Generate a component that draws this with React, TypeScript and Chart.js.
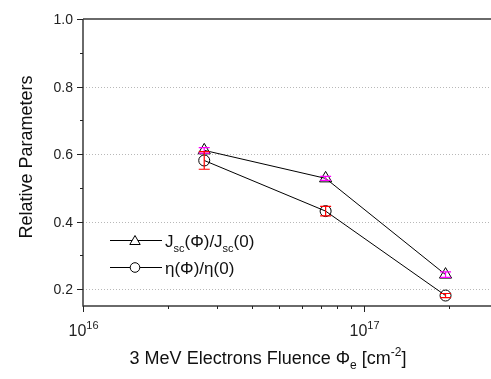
import React, { useEffect, useRef } from "react";
import { Chart, registerables } from "chart.js";

Chart.register(...registerables);

// ---- data ----
const fluence = [2.7e16, 7.3e16, 1.95e17];
const jscValues = [0.611, 0.528, 0.243];
const jscErrors = [0.008, 0.006, 0.008];
const etaValues = [0.581, 0.431, 0.181];
const etaErrors = [0.026, 0.014, 0.006];
const yMajorTicks = [0.2, 0.4, 0.6, 0.8, 1.0];
const yTickLabels = ["0.2", "0.4", "0.6", "0.8", "1.0"];
const yMinorTicks = [0.3, 0.5, 0.7, 0.9];
const yGridValues = [0.2, 0.4, 0.6, 0.8];
const xMajorExponents = [16, 17];
const xMinorTicks = [2e16, 3e16, 4e16, 5e16, 6e16, 7e16, 8e16, 9e16, 2e17];

const FONT = "'Liberation Sans', Arial, sans-serif";

type Part = { t: string; m?: "sub" | "sup" };

function drawRich(
  ctx: CanvasRenderingContext2D,
  parts: Part[],
  x: number,
  y: number,
  size: number,
  align: "left" | "center"
) {
  const small = Math.round(size * 0.66);
  const measure = (p: Part) => {
    ctx.font = `${p.m ? small : size}px ${FONT}`;
    return ctx.measureText(p.t).width;
  };
  const total = parts.reduce((s, p) => s + measure(p), 0);
  let cx = align === "center" ? x - total / 2 : x;
  ctx.textBaseline = "alphabetic";
  ctx.textAlign = "left";
  for (const p of parts) {
    ctx.font = `${p.m ? small : size}px ${FONT}`;
    let dy = 0;
    if (p.m === "sub") dy = size * 0.3;
    if (p.m === "sup") dy = -size * 0.45;
    ctx.fillText(p.t, cx, y + dy);
    cx += ctx.measureText(p.t).width;
  }
}

function drawTriangle(ctx: CanvasRenderingContext2D, x: number, y: number, r: number) {
  let a = 0;
  ctx.beginPath();
  ctx.moveTo(x + Math.sin(a) * r, y - Math.cos(a) * r);
  a += (2 * Math.PI) / 3;
  ctx.lineTo(x + Math.sin(a) * r, y - Math.cos(a) * r);
  a += (2 * Math.PI) / 3;
  ctx.lineTo(x + Math.sin(a) * r, y - Math.cos(a) * r);
  ctx.closePath();
  ctx.fill();
  ctx.stroke();
}

const decorPlugin = {
  id: "decor",
  beforeDatasetsDraw(chart: any) {
    const { ctx, chartArea, scales } = chart;
    const y = scales.y;
    ctx.save();
    ctx.strokeStyle = "#b8b8b8";
    ctx.lineWidth = 1;
    ctx.setLineDash([1, 2]);
    for (const v of yGridValues) {
      const py = Math.round(y.getPixelForValue(v)) + 0.5;
      ctx.beginPath();
      ctx.moveTo(chartArea.left, py);
      ctx.lineTo(chartArea.right, py);
      ctx.stroke();
    }
    ctx.restore();
  },
  afterDatasetsDraw(chart: any) {
    const { ctx, chartArea, scales } = chart;
    const xs = scales.x;
    const ys = scales.y;
    ctx.save();
    // error bars
    const drawErr = (vals: number[], errs: number[], color: string) => {
      ctx.strokeStyle = color;
      ctx.lineWidth = 1.2;
      vals.forEach((v, i) => {
        const px = xs.getPixelForValue(fluence[i]);
        const top = ys.getPixelForValue(v + errs[i]);
        const bot = ys.getPixelForValue(v - errs[i]);
        ctx.beginPath();
        ctx.moveTo(px, top);
        ctx.lineTo(px, bot);
        ctx.moveTo(px - 5.5, top);
        ctx.lineTo(px + 5.5, top);
        ctx.moveTo(px - 5.5, bot);
        ctx.lineTo(px + 5.5, bot);
        ctx.stroke();
      });
    };
    drawErr(jscValues, jscErrors, "#ff00ff");
    drawErr(etaValues, etaErrors, "#ff0000");

    // frame
    ctx.strokeStyle = "#3a3a3a";
    ctx.lineWidth = 1.5;
    ctx.beginPath();
    ctx.moveTo(chartArea.left, chartArea.top);
    ctx.lineTo(chartArea.right, chartArea.top);
    ctx.moveTo(chartArea.left, chartArea.top);
    ctx.lineTo(chartArea.left, chartArea.bottom);
    ctx.lineTo(chartArea.right, chartArea.bottom);
    ctx.stroke();

    // y ticks
    ctx.lineWidth = 1;
    ctx.strokeStyle = "#222";
    ctx.fillStyle = "#222";
    ctx.font = `14px ${FONT}`;
    ctx.textAlign = "right";
    ctx.textBaseline = "middle";
    yMajorTicks.forEach((v, i) => {
      const py = Math.round(ys.getPixelForValue(v)) + 0.5;
      ctx.beginPath();
      ctx.moveTo(chartArea.left - 6, py);
      ctx.lineTo(chartArea.left, py);
      ctx.stroke();
      ctx.fillText(yTickLabels[i], chartArea.left - 10, py + 0.5);
    });
    yMinorTicks.forEach((v) => {
      const py = Math.round(ys.getPixelForValue(v)) + 0.5;
      ctx.beginPath();
      ctx.moveTo(chartArea.left - 3, py);
      ctx.lineTo(chartArea.left, py);
      ctx.stroke();
    });

    // x ticks
    xMajorExponents.forEach((e) => {
      const px = Math.round(xs.getPixelForValue(Math.pow(10, e))) + 0.5;
      ctx.beginPath();
      ctx.moveTo(px, chartArea.bottom);
      ctx.lineTo(px, chartArea.bottom + 6);
      ctx.stroke();
      drawRich(ctx, [{ t: "10" }, { t: String(e), m: "sup" }], px, chartArea.bottom + 30, 16, "center");
    });
    xMinorTicks.forEach((v) => {
      const px = Math.round(xs.getPixelForValue(v)) + 0.5;
      ctx.beginPath();
      ctx.moveTo(px, chartArea.bottom);
      ctx.lineTo(px, chartArea.bottom + 3);
      ctx.stroke();
    });

    // axis titles
    ctx.fillStyle = "#111";
    drawRich(
      ctx,
      [
        { t: "3 MeV Electrons Fluence \u03A6" },
        { t: "e", m: "sub" },
        { t: " [cm" },
        { t: "-2", m: "sup" },
        { t: "]" },
      ],
      268,
      364,
      18,
      "center"
    );
    ctx.save();
    ctx.translate(32, 157);
    ctx.rotate(-Math.PI / 2);
    drawRich(ctx, [{ t: "Relative Parameters" }], 0, 0, 18, "center");
    ctx.restore();

    // legend
    ctx.strokeStyle = "#000";
    ctx.lineWidth = 1;
    const rows = [
      {
        y: 240,
        marker: "tri",
        parts: [
          { t: "J" },
          { t: "sc", m: "sub" },
          { t: "(\u03A6)/J" },
          { t: "sc", m: "sub" },
          { t: "(0)" },
        ] as Part[],
      },
      {
        y: 267,
        marker: "circ",
        parts: [{ t: "\u03B7(\u03A6)/\u03B7(0)" }] as Part[],
      },
    ];
    for (const r of rows) {
      ctx.beginPath();
      ctx.moveTo(110, r.y + 0.5);
      ctx.lineTo(162, r.y + 0.5);
      ctx.stroke();
      ctx.fillStyle = "#fff";
      if (r.marker === "tri") {
        drawTriangle(ctx, 135, r.y + 1.5, 6);
      } else {
        ctx.beginPath();
        ctx.arc(135, r.y + 0.5, 4.8, 0, Math.PI * 2);
        ctx.fill();
        ctx.stroke();
      }
      ctx.fillStyle = "#111";
      drawRich(ctx, r.parts, 165, r.y + 7, 17, "left");
    }
    ctx.restore();
  },
};

export default function App() {
  const ref = useRef<HTMLCanvasElement | null>(null);
  useEffect(() => {
    if (!ref.current) return;
    const chart = new Chart(ref.current, {
      type: "line",
      data: {
        datasets: [
          {
            label: "Jsc",
            data: fluence.map((x, i) => ({ x, y: jscValues[i] })),
            borderColor: "#000",
            borderWidth: 1,
            pointStyle: "triangle",
            pointRadius: 7,
            pointBorderColor: "#000",
            pointBackgroundColor: "rgba(0,0,0,0)",
            pointBorderWidth: 1,
          },
          {
            label: "eta",
            data: fluence.map((x, i) => ({ x, y: etaValues[i] })),
            borderColor: "#000",
            borderWidth: 1,
            pointStyle: "circle",
            pointRadius: 5.5,
            pointBorderColor: "#000",
            pointBackgroundColor: "rgba(0,0,0,0)",
            pointBorderWidth: 1,
          },
        ],
      },
      options: {
        animation: false,
        responsive: true,
        maintainAspectRatio: false,
        layout: { autoPadding: false, padding: { left: 83, top: 19, right: 0, bottom: 73 } },
        scales: {
          x: { type: "logarithmic", min: 1e16, max: 2.83e17, display: false },
          y: { type: "linear", min: 0.15, max: 1.0, display: false },
        },
        plugins: { legend: { display: false }, tooltip: { enabled: false } },
      },
      plugins: [decorPlugin],
    });
    return () => chart.destroy();
  }, []);
  return (
    <div
      style={{
        position: "fixed",
        left: 0,
        top: 0,
        width: 491,
        height: 379,
        background: "#fff",
      }}
    >
      <canvas ref={ref} />
    </div>
  );
}
